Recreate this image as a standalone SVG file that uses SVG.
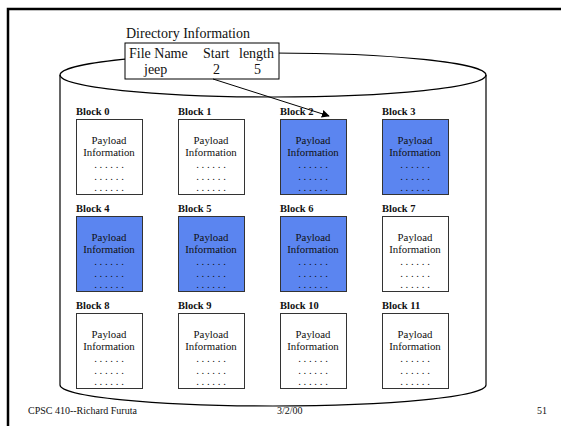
<svg xmlns="http://www.w3.org/2000/svg" width="561" height="426" viewBox="0 0 561 426">
<defs>
<style>
text{font-family:"Liberation Serif","Times New Roman",serif;fill:#111}
.frame{stroke:#000;stroke-width:2.5;fill:none}
.cyl{stroke:#000;stroke-width:1.2;fill:none}
.box{stroke:#333;stroke-width:1;fill:#fff}
.blue{fill:#5b85f0}
.lbl{font-size:10.5px;font-weight:bold}
.pl{font-size:10.8px;text-anchor:middle}
.dir{font-size:14px}
.foot{font-size:10px}
.conn{stroke:#000;stroke-width:1;fill:none}
</style>
<marker id="arr" viewBox="0 0 10 10" refX="9" refY="5" markerWidth="8" markerHeight="8" markerUnits="userSpaceOnUse" orient="auto">
<path d="M0,0 L10,5 L0,10 z" fill="#000"/>
</marker>
<g id="blk">
<text class="pl" x="33" y="25">Payload</text>
<text class="pl" x="33" y="37">Information</text>
<text class="pl" x="33" y="49">. . . . . .</text>
<text class="pl" x="33" y="60.5">. . . . . .</text>
<text class="pl" x="33" y="72">. . . . . .</text>
</g>
</defs>
<rect width="561" height="426" fill="#fff"/>
<g id="frame">
<path class="frame" d="M8,426 V9 H561"/>
</g>
<g id="cylinder">
<path class="cyl" d="M60,75 V385 A213,21 0 0 0 486,385 V75"/>
<ellipse class="cyl" cx="273" cy="75" rx="213" ry="22"/>
</g>
<g id="directory">
<text class="dir" x="126" y="38">Directory Information</text>
<rect x="125" y="43" width="154" height="36" fill="#fff" stroke="#000" stroke-width="1"/>
<text class="dir" x="129" y="58">File Name</text>
<text class="dir" x="203" y="58">Start</text>
<text class="dir" x="239" y="58">length</text>
<text class="dir" x="144" y="74">jeep</text>
<text class="dir" x="213" y="74">2</text>
<text class="dir" x="254" y="74">5</text>
</g>
<g id="block0"><text class="lbl" x="76" y="114.5">Block 0</text><rect class="box" x="76.5" y="119.5" width="66" height="75"/><use href="#blk" x="76" y="119"/></g>
<g id="block1"><text class="lbl" x="178" y="114.5">Block 1</text><rect class="box" x="178.5" y="119.5" width="66" height="75"/><use href="#blk" x="178" y="119"/></g>
<g id="block2"><text class="lbl" x="280" y="114.5">Block 2</text><rect class="box blue" x="280.5" y="119.5" width="66" height="75"/><use href="#blk" x="280" y="119"/></g>
<g id="block3"><text class="lbl" x="382" y="114.5">Block 3</text><rect class="box blue" x="382.5" y="119.5" width="66" height="75"/><use href="#blk" x="382" y="119"/></g>
<g id="block4"><text class="lbl" x="76" y="211.5">Block 4</text><rect class="box blue" x="76.5" y="216.5" width="66" height="75"/><use href="#blk" x="76" y="216"/></g>
<g id="block5"><text class="lbl" x="178" y="211.5">Block 5</text><rect class="box blue" x="178.5" y="216.5" width="66" height="75"/><use href="#blk" x="178" y="216"/></g>
<g id="block6"><text class="lbl" x="280" y="211.5">Block 6</text><rect class="box blue" x="280.5" y="216.5" width="66" height="75"/><use href="#blk" x="280" y="216"/></g>
<g id="block7"><text class="lbl" x="382" y="211.5">Block 7</text><rect class="box" x="382.5" y="216.5" width="66" height="75"/><use href="#blk" x="382" y="216"/></g>
<g id="block8"><text class="lbl" x="76" y="308.5">Block 8</text><rect class="box" x="76.5" y="313.5" width="66" height="75"/><use href="#blk" x="76" y="313"/></g>
<g id="block9"><text class="lbl" x="178" y="308.5">Block 9</text><rect class="box" x="178.5" y="313.5" width="66" height="75"/><use href="#blk" x="178" y="313"/></g>
<g id="block10"><text class="lbl" x="280" y="308.5">Block 10</text><rect class="box" x="280.5" y="313.5" width="66" height="75"/><use href="#blk" x="280" y="313"/></g>
<g id="block11"><text class="lbl" x="382" y="308.5">Block 11</text><rect class="box" x="382.5" y="313.5" width="66" height="75"/><use href="#blk" x="382" y="313"/></g>
<g id="connectors">
<line class="conn" x1="213" y1="79" x2="329" y2="116" marker-end="url(#arr)"/>
</g>
<g id="footer">
<text class="foot" x="28" y="414">CPSC 410--Richard Furuta</text>
<text class="foot" x="277" y="414">3/2/00</text>
<text class="foot" x="537" y="414">51</text>
</g>
</svg>
